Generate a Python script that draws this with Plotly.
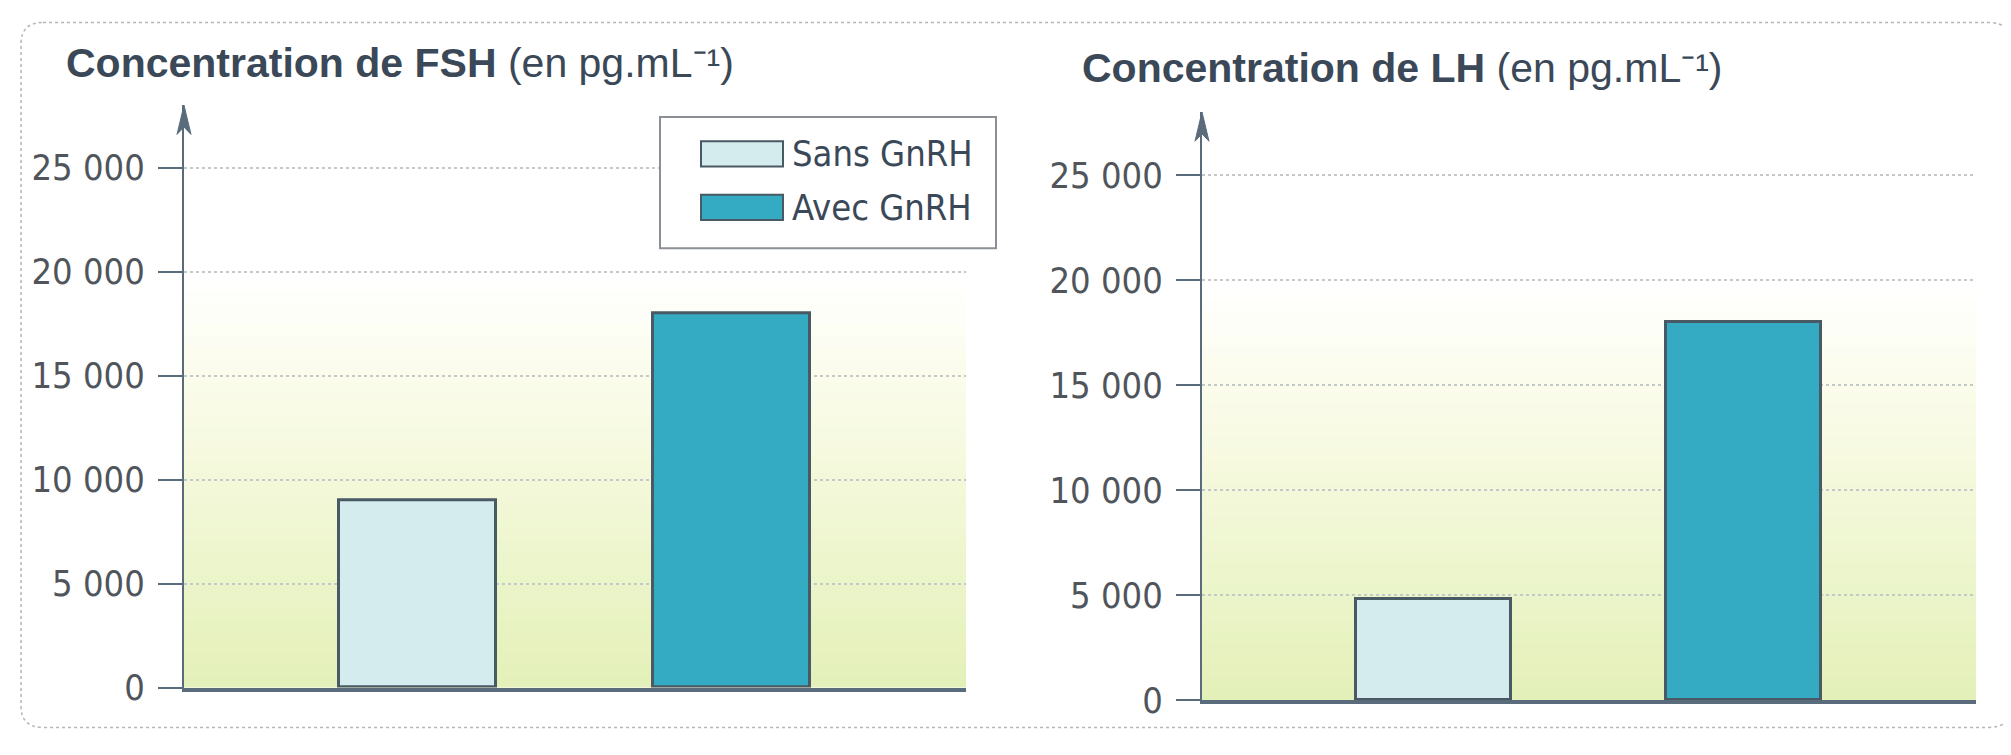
import plotly.graph_objects as go

# ---- data ----
categories = ["Sans GnRH", "Avec GnRH"]
fsh_values = [9000, 18000]
lh_values = [4800, 18000]
y_tickvals = [0, 5000, 10000, 15000, 20000, 25000]
y_ticktext = ["0", "5 000", "10 000", "15 000", "20 000", "25 000"]
titles = ["<b>Concentration de FSH</b> (en pg.mL⁻¹)",
          "<b>Concentration de LH</b> (en pg.mL⁻¹)"]

W, H = 2011, 755
bar_colors = ["#d5ecef", "#34aac3"]
line_col = "#4a5a64"
axis_col = "#5a6c7c"
text_col = "#3a4858"
narrow = "Liberation Sans Narrow, DejaVu Sans Condensed, sans-serif"
tick_font = dict(family=narrow, size=36, color="#50555b")

fig = go.Figure()
fig.add_trace(go.Bar(x=categories, y=fsh_values, width=0.5, xaxis="x", yaxis="y",
                     marker=dict(color=bar_colors, line=dict(color=line_col, width=3)),
                     showlegend=False))
fig.add_trace(go.Bar(x=categories, y=lh_values, width=0.5, xaxis="x2", yaxis="y2",
                     marker=dict(color=bar_colors, line=dict(color=line_col, width=3)),
                     showlegend=False))

def yaxis_cfg(domain, rng, anchor):
    return dict(domain=domain, range=rng, anchor=anchor,
                tickvals=y_tickvals, ticktext=y_ticktext,
                showline=True, linecolor=axis_col, linewidth=2,
                ticks="outside", ticklen=24, tickwidth=2, tickcolor=axis_col,
                showgrid=True, gridcolor="#c3c9c9", gridwidth=1.5, griddash="dot",
                zeroline=False, tickfont=tick_font, ticklabelstandoff=6,
                fixedrange=True)

def xaxis_cfg(domain, anchor):
    return dict(domain=domain, range=[-0.745, 1.749], anchor=anchor,
                showline=True, linecolor=axis_col, linewidth=3.5,
                showticklabels=False, ticks="", showgrid=False, zeroline=False,
                fixedrange=True)

left_dom = [176 / W, 958 / W]
right_dom = [1194 / W, 1968 / W]
fig.update_layout(
    width=W, height=H,
    margin=dict(l=0, r=0, t=0, b=0),
    paper_bgcolor="white", plot_bgcolor="rgba(0,0,0,0)",
    bargap=0,
    xaxis=xaxis_cfg(left_dom, "y"),
    yaxis=yaxis_cfg([(H - 699) / H, (H - 100) / H], [0, 28000], "x"),
    xaxis2=xaxis_cfg(right_dom, "y2"),
    yaxis2=yaxis_cfg([(H - 712) / H, (H - 107) / H], [0, 28000], "x2"),
)

# ---- background gradient (decoration) ----
stops = [(0.0, (228, 240, 184)), (0.2, (236, 245, 203)), (0.4, (246, 249, 222)),
         (0.58, (252, 253, 240)), (0.7, (255, 255, 255))]

def col_at(f):
    for (f0, c0), (f1, c1) in zip(stops[:-1], stops[1:]):
        if f0 <= f <= f1:
            t = (f - f0) / (f1 - f0)
            return "rgb(%d,%d,%d)" % tuple(round(a + (b - a) * t) for a, b in zip(c0, c1))
    return "rgb(255,255,255)"

shapes = []
N = 36
top = 0.7
for xr, yr in [("x", "y"), ("x2", "y2")]:
    for i in range(N):
        f0 = top * i / N
        f1 = top * (i + 1) / N + 0.002
        shapes.append(dict(type="rect", xref=xr + " domain", yref=yr + " domain",
                           x0=0, x1=1, y0=f0, y1=f1, layer="below",
                           fillcolor=col_at((f0 + f1) / 2), line=dict(width=0)))

# axis arrow heads (decoration)
for xr, yr, dom, ydom in [("x", "y", left_dom, (699 - 100)), ("x2", "y2", right_dom, (712 - 107))]:
    pw = (dom[1] - dom[0]) * W
    hx = 7 / pw
    hy = 30 / ydom
    shapes.append(dict(type="path", xref=xr + " domain", yref=yr + " domain",
                       path=f"M{-hx},{1 - hy} L0,1 L{hx},{1 - hy} L0,{1 - hy * 0.75} Z",
                       fillcolor=axis_col, line=dict(color=axis_col, width=1)))

# outer rounded dotted border
L, R, T, B = 13 / W, 2003 / W, 1 - 15 / H, 1 - 740 / H
rx, ry = 22 / W, 22 / H
path = (f"M{L+rx},{T} L{R-rx},{T} Q{R},{T} {R},{T-ry} L{R},{B+ry} Q{R},{B} {R-rx},{B} "
        f"L{L+rx},{B} Q{L},{B} {L},{B+ry} L{L},{T-ry} Q{L},{T} {L+rx},{T} Z")
shapes.append(dict(type="path", xref="paper", yref="paper", path=path,
                   line=dict(color="#b3b6b8", width=1.5, dash="dot"), layer="below"))

# custom legend box (decoration), entries from categories
lg_x0, lg_x1, lg_y0, lg_y1 = 652, 988, 112, 247
shapes.append(dict(type="rect", xref="paper", yref="paper",
                   x0=lg_x0 / W, x1=lg_x1 / W, y0=1 - lg_y1 / H, y1=1 - lg_y0 / H,
                   fillcolor="white", line=dict(color="#8a9096", width=2)))
annotations = []
for i, name in enumerate(categories):
    cy = 150 + 55 * i
    shapes.append(dict(type="rect", xref="paper", yref="paper",
                       x0=693 / W, x1=775 / W, y0=1 - (cy + 13) / H, y1=1 - (cy - 13) / H,
                       fillcolor=bar_colors[i], line=dict(color=line_col, width=2)))
    annotations.append(dict(x=782 / W, y=1 - cy / H, xref="paper", yref="paper",
                            text=name, showarrow=False, xanchor="left", yanchor="middle",
                            font=dict(family=narrow, size=36, color=text_col)))

# titles
for (tx, ty), t in zip([(56, 57), (1072, 62)], titles):
    annotations.append(dict(x=tx / W, y=1 - ty / H, xref="paper", yref="paper",
                            text=t, showarrow=False, xanchor="left", yanchor="middle",
                            font=dict(family="Liberation Sans, Arial, sans-serif",
                                      size=41, color=text_col)))

fig.update_layout(shapes=shapes, annotations=annotations)
fig.write_html("out.html")
